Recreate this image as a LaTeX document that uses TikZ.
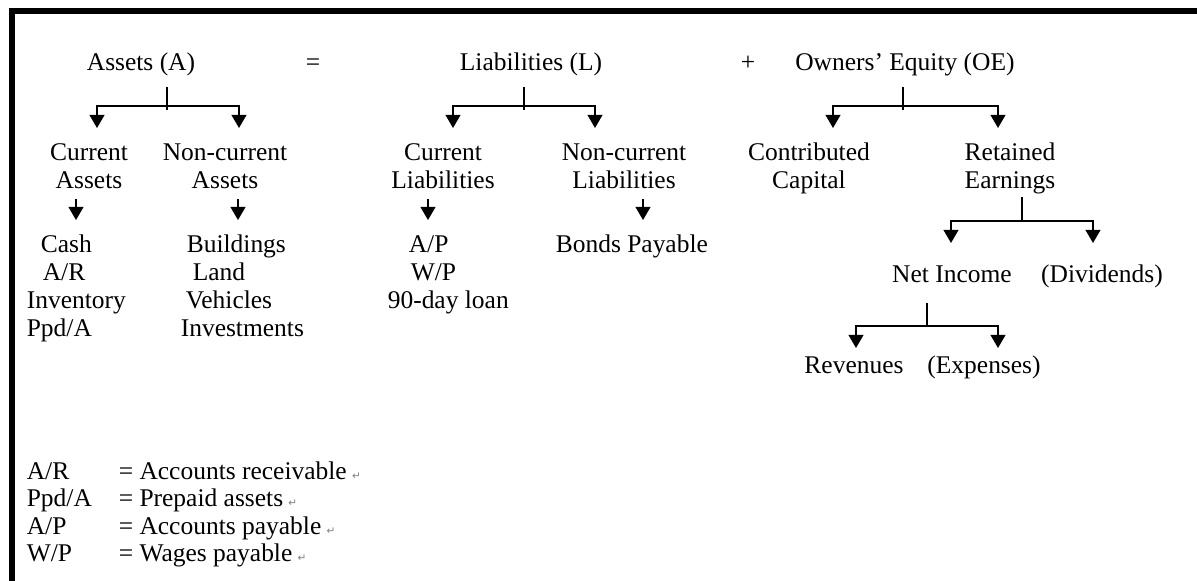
\documentclass[tikz,border=0pt]{standalone}
\usepackage{fontspec}
\setmainfont{Liberation Serif}
\newfontfamily\markfont{DejaVu Sans}
\usetikzlibrary{arrows.meta}
\newcommand{\pmark}{\hspace{3pt}{\markfont\fontsize{6}{6}\selectfont\color{gray}↵}}

\begin{document}
\begin{tikzpicture}[x=0.02cm,y=-0.02cm,line width=0.9pt,
  font=\fontsize{14.5}{16}\selectfont,
  lbl/.style={inner sep=0pt,anchor=base,align=center},
  item/.style={inner sep=0pt,anchor=base west},
  tip/.style={-{Triangle[width=8.5pt,length=7.5pt]}}]
  \useasboundingbox (0,0) rectangle (1197,581);
  \draw[line width=3.4pt] (12,581) -- (12,11) -- (1197,11);

  \node[lbl] (assets) at (141,71) {Assets (A)};
  \node[lbl] (eq) at (313,71) {=};
  \node[lbl] (liab) at (531,71) {Liabilities (L)};
  \node[lbl] (plus) at (748,71) {+};
  \node[lbl] (oe) at (905,71) {Owners’ Equity (OE)};

  \node[lbl] (ca) at (89,189) {Current\\Assets};
  \node[lbl] (nca) at (225,189) {Non-current\\Assets};
  \node[lbl] (cl) at (443,189) {Current\\Liabilities};
  \node[lbl] (ncl) at (624,189) {Non-current\\Liabilities};
  \node[lbl] (cc) at (809,189) {Contributed\\Capital};
  \node[lbl] (re) at (1010,189) {Retained\\Earnings};

  \node[item] (cash) at (40,252) {Cash};
  \node[item] (ar) at (42,280) {A/R};
  \node[item] (inv) at (26,308) {Inventory};
  \node[item] (ppd) at (26,336) {Ppd/A};
  \node[item] (bldg) at (186,252) {Buildings};
  \node[item] (land) at (192,280) {Land};
  \node[item] (veh) at (185,308) {Vehicles};
  \node[item] (invest) at (180,336) {Investments};
  \node[item] (ap) at (408,252) {A/P};
  \node[item] (wp) at (410,280) {W/P};
  \node[item] (loan) at (387,308) {90-day loan};
  \node[item] (bonds) at (555,252) {Bonds Payable};

  \node[lbl] (ni) at (952,282) {Net Income};
  \node[lbl] (div) at (1102,282) {(Dividends)};
  \node[lbl] (rev) at (854,373) {Revenues};
  \node[lbl] (exp) at (984,373) {(Expenses)};

  \coordinate (A-top) at (167,87);
  \coordinate (A-mid) at (167,106);
  \coordinate (ca-in) at (97,128);
  \coordinate (nca-in) at (239,128);
  \draw (A-top) -- ++(0,23);
  \draw[tip] (A-mid) -| (ca-in);
  \draw[tip] (A-mid) -| (nca-in);

  \coordinate (L-top) at (524,87);
  \coordinate (L-mid) at (524,106);
  \coordinate (cl-in) at (453,128);
  \coordinate (ncl-in) at (595,128);
  \draw (L-top) -- ++(0,23);
  \draw[tip] (L-mid) -| (cl-in);
  \draw[tip] (L-mid) -| (ncl-in);

  \coordinate (OE-top) at (903,87);
  \coordinate (OE-mid) at (903,106);
  \coordinate (cc-in) at (833,128);
  \coordinate (re-in) at (998,128);
  \draw (OE-top) -- ++(0,23);
  \draw[tip] (OE-mid) -| (cc-in);
  \draw[tip] (OE-mid) -| (re-in);

  \coordinate (RE-top) at (1022,197);
  \coordinate (RE-mid) at (1022,221);
  \coordinate (ni-in) at (951,243);
  \coordinate (div-in) at (1093,243);
  \draw (RE-top) -- (RE-mid);
  \draw[tip] (RE-mid) -| (ni-in);
  \draw[tip] (RE-mid) -| (div-in);

  \coordinate (NI-top) at (927,303);
  \coordinate (NI-mid) at (927,326);
  \coordinate (rev-in) at (856,348);
  \coordinate (exp-in) at (998,348);
  \draw (NI-top) -- (NI-mid);
  \draw[tip] (NI-mid) -| (rev-in);
  \draw[tip] (NI-mid) -| (exp-in);

  \draw[tip] ([shift={(-13,9)}]ca.south) -- ++(0,21);
  \draw[tip] ([shift={(13,9)}]nca.south) -- ++(0,21);
  \draw[tip] ([shift={(-15,9)}]cl.south) -- ++(0,21);
  \draw[tip] ([shift={(19,9)}]ncl.south) -- ++(0,21);

  \node[item] (k1) at (26,479) {A/R};
  \node[item] (k2) at (26,506) {Ppd/A};
  \node[item] (k3) at (26,534) {A/P};
  \node[item] (k4) at (26,561) {W/P};
  \node[item] (v1) at (118,479) {= Accounts receivable\pmark};
  \node[item] (v2) at (118,506) {= Prepaid assets\pmark};
  \node[item] (v3) at (118,534) {= Accounts payable\pmark};
  \node[item] (v4) at (118,561) {= Wages payable\pmark};
\end{tikzpicture}
\end{document}
